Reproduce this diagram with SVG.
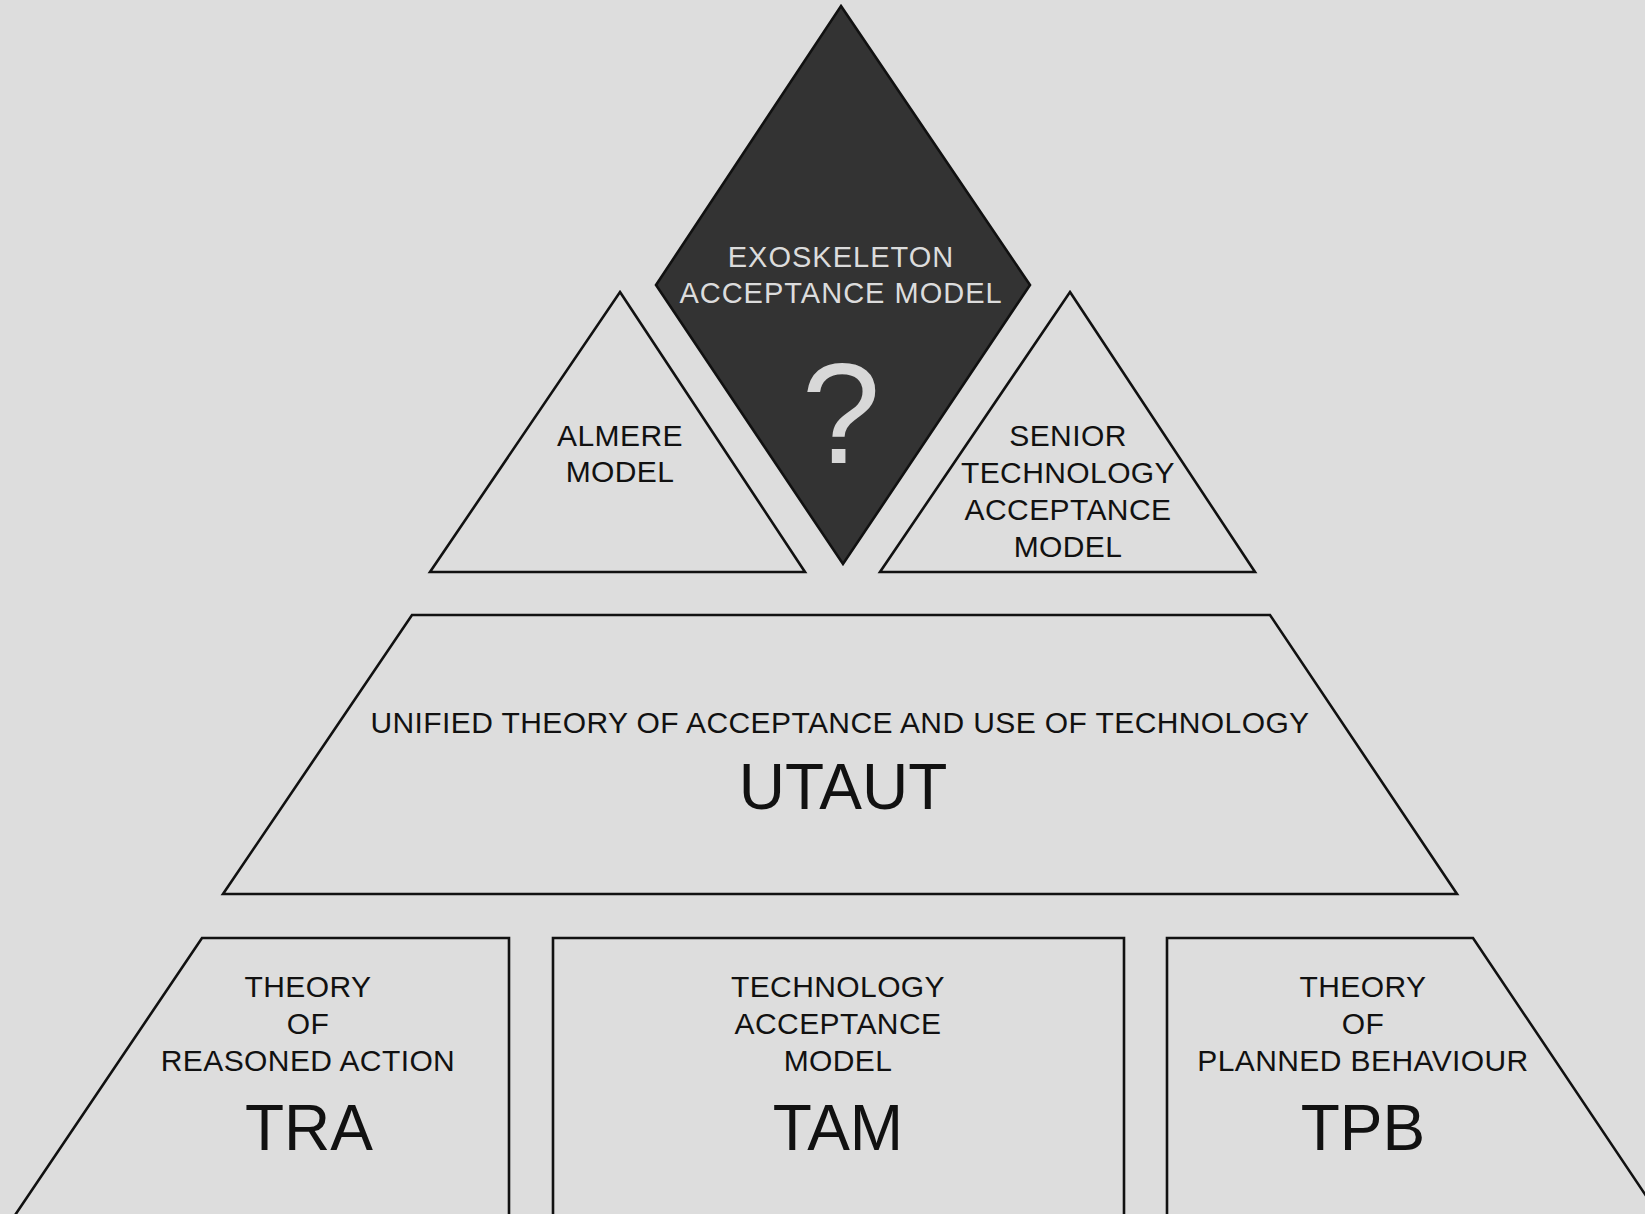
<svg xmlns="http://www.w3.org/2000/svg" width="1645" height="1214" viewBox="0 0 1645 1214">
<style>
.shape{fill:#dddddd;stroke:#111111;stroke-width:2.6;stroke-linejoin:miter}
.dark{fill:#333333;stroke:#111111;stroke-width:2.6}
.t{font-family:"Liberation Sans",Arial,sans-serif;font-size:30px;fill:#111111;text-anchor:middle;letter-spacing:0.4px}
.big{font-family:"Liberation Sans",Arial,sans-serif;font-size:64px;fill:#111111;text-anchor:middle}
.lt{font-family:"Liberation Sans",Arial,sans-serif;font-size:29px;fill:#dcdcdc;text-anchor:middle;letter-spacing:1px}
.q{font-family:"Liberation Sans",Arial,sans-serif;font-size:142px;fill:#d8d8d8;text-anchor:middle}
</style>
<rect x="0" y="0" width="1645" height="1214" fill="#dddddd"/>
<g id="connectors"></g>
<g id="exoskeleton">
<polygon class="dark" points="841,6 1030,285 843,564 656,285"/>
<text class="lt" x="841" y="267">EXOSKELETON</text>
<text class="lt" x="841" y="303">ACCEPTANCE MODEL</text>
<text class="q" x="841" y="463">?</text>
</g>
<g id="almere">
<polygon class="shape" points="620,292 805,572 430,572"/>
<text class="t" x="620" y="446">ALMERE</text>
<text class="t" x="620" y="482">MODEL</text>
</g>
<g id="stam">
<polygon class="shape" points="1070,292 1255,572 880,572"/>
<text class="t" x="1068" y="446">SENIOR</text>
<text class="t" x="1068" y="483">TECHNOLOGY</text>
<text class="t" x="1068" y="520">ACCEPTANCE</text>
<text class="t" x="1068" y="557">MODEL</text>
</g>
<g id="utaut">
<polygon class="shape" points="412,615 1270,615 1457,894 223,894"/>
<text class="t" x="840" y="733">UNIFIED THEORY OF ACCEPTANCE AND USE OF TECHNOLOGY</text>
<text class="big" x="843" y="809">UTAUT</text>
</g>
<g id="tra">
<polygon class="shape" points="202,938 509,938 509,1230 5,1230"/>
<text class="t" x="308" y="997">THEORY</text>
<text class="t" x="308" y="1034">OF</text>
<text class="t" x="308" y="1071">REASONED ACTION</text>
<text class="big" x="309" y="1150">TRA</text>
</g>
<g id="tam">
<polygon class="shape" points="553,938 1124,938 1124,1230 553,1230"/>
<text class="t" x="838" y="997">TECHNOLOGY</text>
<text class="t" x="838" y="1034">ACCEPTANCE</text>
<text class="t" x="838" y="1071">MODEL</text>
<text class="big" x="838" y="1150">TAM</text>
</g>
<g id="tpb">
<polygon class="shape" points="1167,938 1473,938 1669,1230 1167,1230"/>
<text class="t" x="1363" y="997">THEORY</text>
<text class="t" x="1363" y="1034">OF</text>
<text class="t" x="1363" y="1071">PLANNED BEHAVIOUR</text>
<text class="big" x="1363" y="1150">TPB</text>
</g>
</svg>
